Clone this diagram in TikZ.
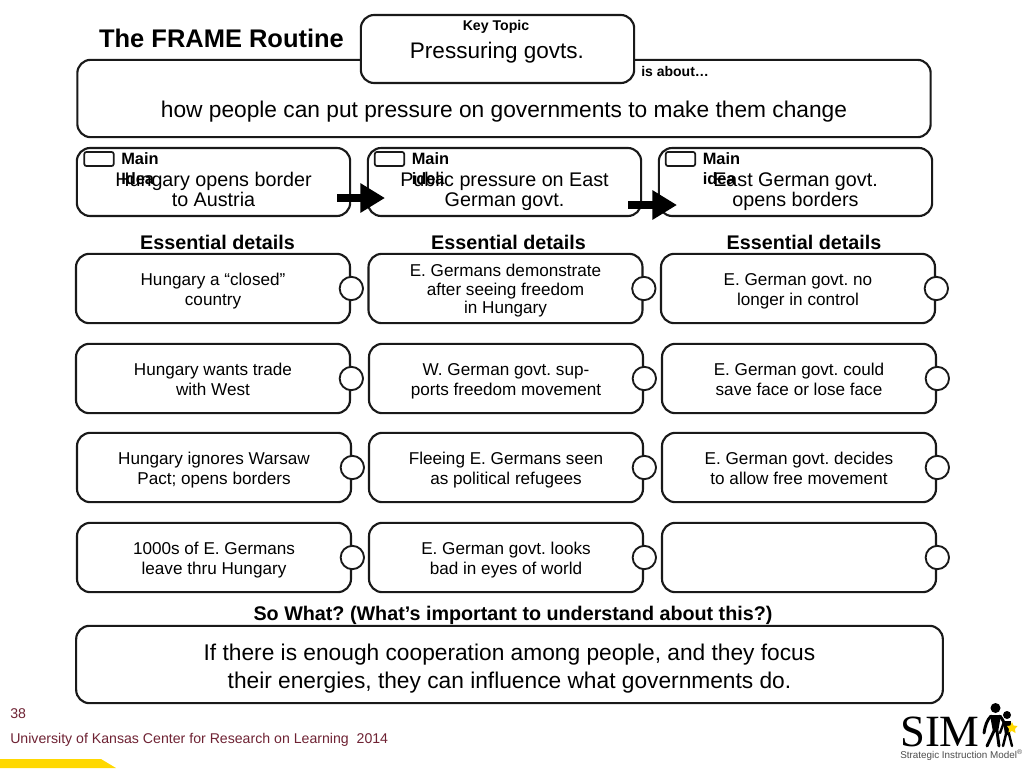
\documentclass[tikz,border=0pt]{standalone}
\usepackage{fontspec}
\setmainfont{Liberation Sans}
\newfontfamily\logofont{Liberation Serif}
\usepackage{tikz}
\usetikzlibrary{arrows.meta}
\definecolor{footred}{HTML}{6E2233}
\definecolor{stripyellow}{HTML}{FFD800}
\frenchspacing

\begin{document}
\begin{tikzpicture}[x=.75pt, y=-.75pt,
  box/.style={draw=black!90, line width=1.6pt, rounded corners=10pt, fill=white, align=center, inner sep=0pt, outer sep=0pt},
  idea/.style={box, minimum width=205pt, minimum height=51pt, font=\fontsize{14.8}{14.6}\selectfont, text height=39.5pt, text depth=3pt},
  detail/.style={box, minimum width=205.5pt, minimum height=52pt, font=\fontsize{12.85}{15.4}\selectfont, text height=29pt, text depth=3pt},
  dot/.style={circle, draw=black!90, line width=1.4pt, fill=white, minimum size=17.5pt, inner sep=0pt, xshift=1pt},
  tag/.style={rectangle, draw=black!90, line width=1.3pt, rounded corners=1.5pt, minimum width=22pt, minimum height=10.5pt, inner sep=0pt},
  head/.style={font=\fontsize{12.3}{12}\selectfont\bfseries, inner sep=0pt},
  essential/.style={font=\fontsize{14.8}{15}\selectfont\bfseries, inner sep=0pt},
  block/.style={line width=6pt, black, -{Triangle[length=18.5pt, width=21pt]}},
  figure/.style={black, line width=2.2pt, line cap=round}]
  \useasboundingbox (0,0) rectangle (1024,768);

  % footer strip
  \fill[stripyellow] (0,759) -- (101,759) -- (116,768) -- (0,768) -- cycle;

  \node[font=\fontsize{19.1}{20}\selectfont\bfseries, inner sep=0pt] (title) at (221.5,38.5) {The FRAME Routine};

  \node[box, minimum width=640pt, minimum height=58pt, font=\fontsize{17.05}{18}\selectfont, text height=31pt, text depth=2.25pt] (about) at (504,98.5) {how people can put pressure on governments to make them change};
  \node[box, minimum width=205pt, minimum height=51pt] (topic) at (497.5,49) {};
  \node[font=\fontsize{10.6}{10}\selectfont\bfseries, inner sep=0pt] (keytopic) at (496,27) {Key Topic};
  \node[font=\fontsize{16.9}{18}\selectfont, inner sep=0pt] (pressure) at (497,53) {Pressuring govts.};
  \node[font=\fontsize{10.5}{10}\selectfont\bfseries, anchor=west, inner sep=0pt] (isabout) at (641,71) {is about\dots};

  % main ideas
  \node[idea] (idea1) at (213.5,182) {Hungary opens border\\to Austria};
  \node[idea] (idea2) at (504.5,182) {Public pressure on East\\German govt.};
  \node[idea] (idea3) at (795.5,182) {East German govt.\\opens borders};

  \node[tag] (tag1) at (99,159) {};
  \node[tag] (tag2) at (389.5,159) {};
  \node[tag] (tag3) at (680.5,159) {};
  \node[head, anchor=west] (main1) at (121,159) {Main};
  \node[head, anchor=west] (main2) at (411.5,159) {Main};
  \node[head, anchor=west] (main3) at (702.5,159) {Main};
  \node[head, anchor=west] (word1) at (121,179) {Idea};
  \node[head, anchor=west] (word2) at (411.5,179) {idea};
  \node[head, anchor=west] (word3) at (702.5,179) {idea};

  \coordinate (from1) at (337,198);
  \coordinate (to1) at (385,198);
  \coordinate (from2) at (628,205);
  \coordinate (to2) at (677,205);
  \draw[block] (from1) -- (to1);
  \draw[block] (from2) -- (to2);

  \node[essential] (ess1) at (217.5,242.5) {Essential details};
  \node[essential] (ess2) at (508.5,242.5) {Essential details};
  \node[essential] (ess3) at (804,242.5) {Essential details};

  % details
  \node[detail] (d11) at (213,288.5) {Hungary a “closed”\\country};
  \node[detail, font=\fontsize{12.85}{13.9}\selectfont, text height=41pt] (d12) at (505.5,288.5) {E. Germans demonstrate\\after seeing freedom\\in Hungary};
  \node[detail] (d13) at (798,288.5) {E. German govt. no\\longer in control};
  \node[detail] (d21) at (213,378.5) {Hungary wants trade\\with West};
  \node[detail] (d22) at (506,378.5) {W. German govt. sup-\\ports freedom movement};
  \node[detail] (d23) at (799,378.5) {E. German govt. could\\save face or lose face};
  \node[detail] (d31) at (214,467.5) {Hungary ignores Warsaw\\Pact; opens borders};
  \node[detail] (d32) at (506,467.5) {Fleeing E. Germans seen\\as political refugees};
  \node[detail] (d33) at (799,467.5) {E. German govt. decides\\to allow free movement};
  \node[detail] (d41) at (214,557.5) {1000s of E. Germans\\leave thru Hungary};
  \node[detail] (d42) at (506,557.5) {E. German govt. looks\\bad in eyes of world};
  \node[detail] (d43) at (799,557.5) {};

  \node[dot] (c11) at (d11.east) {};
  \node[dot] (c12) at (d12.east) {};
  \node[dot] (c13) at (d13.east) {};
  \node[dot] (c21) at (d21.east) {};
  \node[dot] (c22) at (d22.east) {};
  \node[dot] (c23) at (d23.east) {};
  \node[dot] (c31) at (d31.east) {};
  \node[dot] (c32) at (d32.east) {};
  \node[dot] (c33) at (d33.east) {};
  \node[dot] (c41) at (d41.east) {};
  \node[dot] (c42) at (d42.east) {};
  \node[dot] (c43) at (d43.east) {};

  \node[essential] (sowhat) at (513,615) {So What? (What’s important to understand about this?)};
  \node[box, minimum width=650pt, minimum height=58pt, font=\fontsize{17.05}{21}\selectfont, text height=38.5pt, text depth=3.2pt] (answer) at (509.5,664.5) {If there is enough cooperation among people, and they focus\\their energies, they can influence what governments do.};

  % footer
  \node[font=\fontsize{10.6}{10}\selectfont, text=footred, anchor=west, inner sep=0pt] (page) at (10,714) {38};
  \node[font=\fontsize{10.6}{10}\selectfont, text=footred, anchor=west, inner sep=0pt] (univ) at (10,740) {University of Kansas Center for Research on Learning\ \ 2014};

  % logo
  \node[font=\fontsize{33.5}{36}\selectfont\logofont, inner sep=0pt, anchor=west] (sim) at (900,731.5) {SIM};
  \node[font=\fontsize{7.4}{8}\selectfont, text=black!70, inner sep=0pt, anchor=west] (strategic) at (900,755) {Strategic Instruction Model\textsuperscript{®}};
  \fill[black] (995.5,708) circle (5);
  \fill[black] (1007,715) circle (4);
  \fill[black] (990,715) -- (1001,715) -- (998,732) -- (993,732) -- cycle;
  \draw[figure] (991,716) .. controls (987,720) and (985,726) .. (984,733);
  \draw[figure] (1000,716) .. controls (1003,720) and (1005,724) .. (1006,728);
  \draw[figure] (994,731) -- (987,746);
  \draw[figure] (997,731) -- (999,746);
  \fill[black] (1003,721) -- (1011,721) -- (1010,735) -- (1005,735) -- cycle;
  \draw[figure, line width=1.8pt] (1004,722) -- (1000,733);
  \draw[figure, line width=1.8pt] (1006,734) -- (1003,746);
  \draw[figure, line width=1.8pt] (1009,734) -- (1012,746);
  \fill[stripyellow] (1012,722) -- (1013.5,725.5) -- (1017.5,726) -- (1015,729) -- (1015.5,733) -- (1012,731) -- (1008.5,732.5) -- (1009,729) -- (1007,726) -- (1010.5,725.5) -- cycle;
\end{tikzpicture}
\end{document}
